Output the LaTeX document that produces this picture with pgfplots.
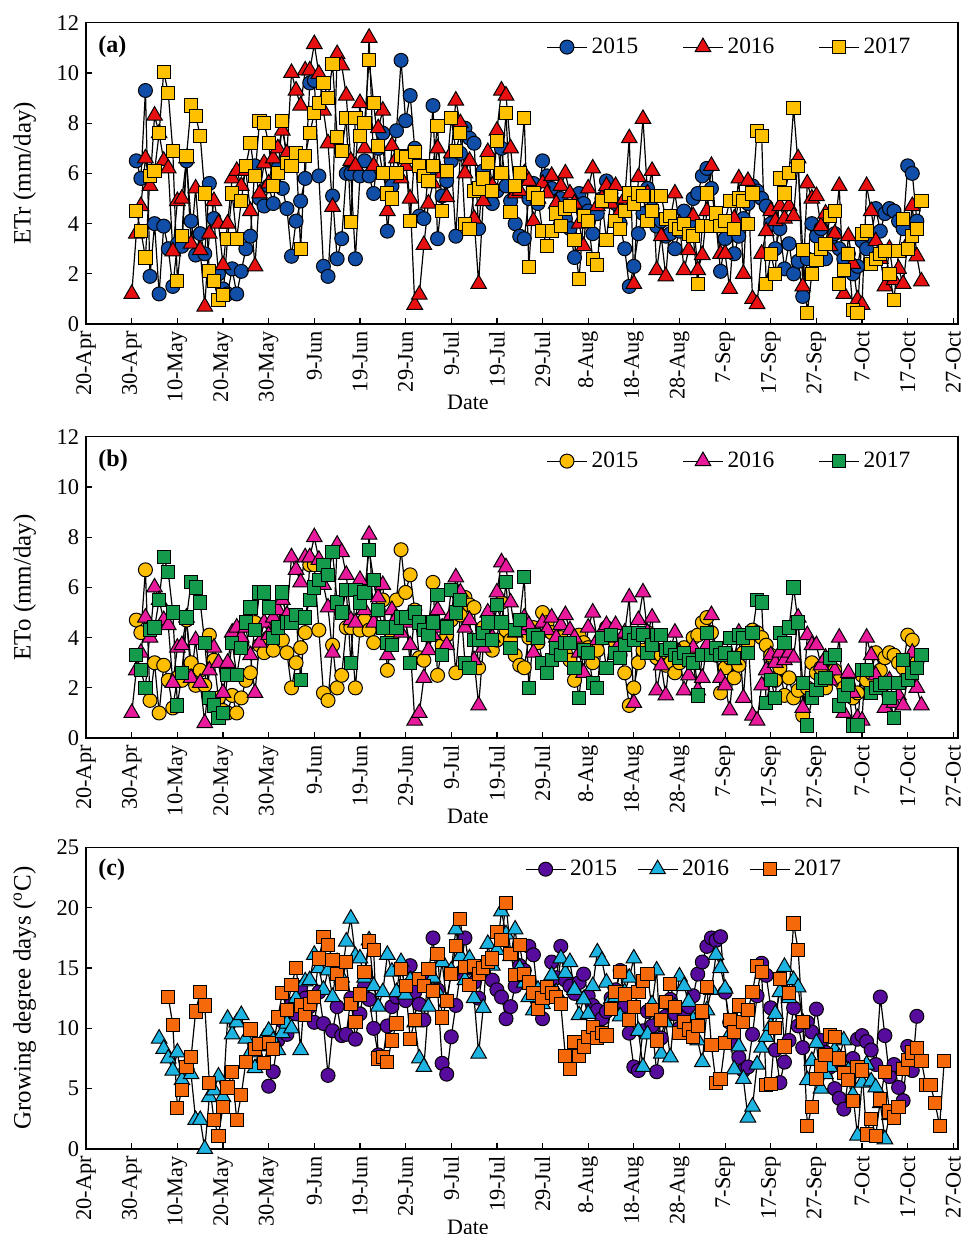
\documentclass[border=0pt]{standalone}
\usepackage{fontspec}
\setmainfont{Liberation Serif}
\usepackage{pgfplots}
\usepackage{pgfplotstable}
\pgfplotsset{compat=1.18}

\definecolor{cA1}{RGB}{16,78,168}
\definecolor{cA2}{RGB}{232,16,16}
\definecolor{cA3}{RGB}{255,192,0}
\definecolor{cB1}{RGB}{255,190,0}
\definecolor{cB2}{RGB}{232,25,155}
\definecolor{cB3}{RGB}{20,155,75}
\definecolor{cC1}{RGB}{88,12,158}
\definecolor{cC2}{RGB}{30,180,225}
\definecolor{cC3}{RGB}{245,105,10}

% ETr 2015, from 1-May (day 11 after 20-Apr)
\pgfplotstableread[row sep=\\]{
y\\6.5\\5.8\\9.3\\1.9\\4.0\\1.2\\3.9\\3.0\\1.5\\3.2\\
3.1\\6.5\\4.1\\2.75\\3.6\\2.8\\5.6\\4.2\\2.0\\1.4\\
1.2\\2.2\\1.2\\2.1\\3.0\\3.5\\6.3\\5.0\\4.7\\5.5\\
4.8\\6.2\\5.4\\4.6\\2.7\\4.1\\4.9\\5.8\\9.6\\9.7\\
5.9\\2.3\\1.9\\5.1\\2.6\\3.4\\6.0\\6.0\\2.6\\5.9\\
6.5\\5.9\\5.2\\7.0\\7.6\\3.7\\5.5\\7.7\\10.5\\8.1\\
9.1\\7.0\\4.3\\4.2\\6.0\\8.7\\3.4\\5.1\\5.7\\6.5\\
3.5\\6.8\\7.8\\7.4\\7.2\\3.8\\6.1\\5.0\\4.8\\5.3\\
7.0\\5.5\\4.9\\4.0\\3.5\\3.4\\5.0\\5.6\\4.8\\6.5\\
5.9\\5.4\\4.6\\5.0\\4.2\\3.8\\2.65\\5.2\\4.8\\4.5\\
3.6\\4.4\\5.0\\5.7\\5.2\\4.8\\4.0\\3.0\\1.5\\2.3\\
3.6\\4.4\\5.4\\4.6\\3.9\\4.1\\3.5\\3.6\\3.0\\3.7\\
4.5\\4.0\\5.0\\5.2\\5.9\\6.2\\5.4\\4.0\\2.1\\3.4\\
3.9\\2.8\\3.5\\4.2\\4.8\\5.5\\5.3\\5.0\\4.7\\4.0\\
3.0\\3.8\\2.2\\3.2\\2.0\\2.5\\1.1\\2.6\\4.0\\3.5\\
3.8\\2.6\\3.2\\3.6\\3.0\\2.6\\2.8\\2.0\\2.3\\3.3\\
3.0\\3.5\\4.6\\3.7\\4.4\\4.6\\4.5\\4.1\\3.8\\6.3\\
6.0\\4.1\\
}\etrA
% ETr 2016, from day 10
\pgfplotstableread[row sep=\\]{
y\\1.2\\3.6\\4.7\\6.6\\5.5\\8.3\\7.6\\6.5\\6.2\\2.9\\
4.9\\5.0\\6.6\\3.2\\5.4\\2.95\\0.7\\3.6\\4.9\\4.0\\
2.35\\4.0\\5.8\\6.1\\5.5\\6.1\\4.5\\2.3\\5.2\\6.4\\
5.6\\6.6\\7.0\\7.7\\6.8\\10.0\\9.3\\8.7\\10.1\\10.1\\
11.15\\9.96\\8.5\\7.2\\4.67\\10.75\\10.3\\9.1\\6.5\\6.3\\
8.8\\7.0\\11.4\\6.3\\7.8\\8.5\\4.5\\7.1\\6.6\\5.8\\
6.3\\5.0\\0.77\\1.17\\3.15\\4.8\\5.6\\7.0\\6.0\\5.06\\
6.8\\8.9\\8.0\\6.0\\6.5\\4.2\\1.6\\4.9\\6.85\\5.5\\
7.7\\9.3\\9.1\\7.0\\5.2\\5.3\\6.0\\5.7\\4.1\\5.0\\
5.6\\5.2\\5.9\\4.8\\5.5\\6.0\\5.2\\4.8\\4.0\\3.1\\
5.4\\6.2\\4.7\\5.0\\5.5\\4.8\\5.5\\4.5\\5.0\\7.4\\
1.6\\5.85\\8.17\\5.2\\6.1\\2.15\\3.5\\1.9\\4.2\\5.2\\
4.0\\2.15\\2.95\\4.3\\2.15\\2.75\\4.5\\6.3\\4.0\\2.8\\
2.8\\1.4\\4.2\\5.8\\2.0\\5.7\\1.0\\0.8\\2.8\\3.7\\
4.5\\4.1\\4.7\\4.2\\4.7\\4.3\\6.6\\1.5\\5.6\\5.0\\
5.1\\3.9\\4.4\\3.1\\3.6\\5.5\\1.2\\3.5\\2.4\\0.97\\
0.77\\5.5\\4.5\\3.3\\2.6\\1.5\\3.0\\1.75\\2.2\\1.6\\
3.2\\4.7\\2.7\\1.7\\
}\etrB
% ETr 2017, from day 11
\pgfplotstableread[row sep=\\]{
y\\4.5\\3.7\\2.65\\5.9\\6.1\\7.6\\10.05\\9.2\\6.9\\1.7\\
3.5\\6.7\\8.7\\8.3\\7.5\\5.2\\2.1\\1.7\\0.96\\1.16\\
3.4\\5.2\\3.4\\4.9\\6.3\\7.2\\5.9\\8.1\\8.0\\7.2\\
5.5\\6.0\\8.1\\6.4\\6.3\\6.8\\3.0\\6.7\\7.6\\8.4\\
8.8\\9.6\\9.0\\10.36\\7.45\\6.9\\8.2\\4.07\\8.2\\7.5\\
8.0\\10.5\\8.8\\7.1\\6.0\\5.2\\5.0\\6.0\\6.7\\6.65\\
4.1\\6.85\\6.3\\5.9\\5.7\\6.3\\7.9\\4.5\\6.1\\8.2\\
6.9\\7.6\\4.0\\3.8\\5.3\\5.4\\5.8\\6.4\\5.3\\7.3\\
6.0\\8.4\\4.45\\5.5\\6.0\\8.2\\2.26\\5.2\\5.0\\3.7\\
3.1\\3.7\\4.4\\3.9\\4.6\\4.7\\3.35\\1.78\\4.3\\4.1\\
2.6\\2.35\\4.9\\3.35\\5.1\\4.1\\3.8\\4.5\\5.2\\4.8\\
5.2\\5.1\\4.1\\4.5\\5.1\\5.1\\4.2\\4.3\\3.9\\3.8\\
4.0\\3.6\\3.5\\1.6\\3.9\\5.2\\3.9\\4.4\\3.9\\4.1\\
4.9\\3.8\\5.0\\4.9\\4.0\\5.2\\7.7\\7.5\\1.6\\2.8\\
2.0\\5.8\\5.2\\6.0\\8.6\\6.3\\2.95\\0.44\\2.0\\2.55\\
3.0\\3.2\\4.3\\4.5\\1.6\\2.15\\2.8\\0.56\\0.44\\3.6\\
3.7\\2.4\\2.6\\2.8\\2.9\\2.0\\0.96\\2.9\\4.2\\3.0\\
3.5\\3.8\\4.9\\
}\etrC
% ETo 2015, from day 11
\pgfplotstableread[row sep=\\]{
y\\4.7\\4.2\\6.7\\1.5\\3.0\\1.0\\2.9\\2.3\\1.2\\2.4\\
2.3\\4.7\\3.0\\2.1\\2.7\\2.1\\4.1\\3.1\\1.6\\1.1\\
1.0\\1.7\\1.0\\1.6\\2.3\\2.6\\4.6\\3.7\\3.4\\4.0\\
3.5\\4.5\\3.9\\3.4\\2.0\\3.0\\3.6\\4.2\\6.9\\6.9\\
4.3\\1.8\\1.5\\3.7\\2.0\\2.5\\4.4\\4.4\\2.0\\4.3\\
4.7\\4.3\\3.8\\5.1\\5.5\\2.7\\4.0\\5.5\\7.5\\5.8\\
6.5\\5.1\\3.2\\3.1\\4.4\\6.2\\2.5\\3.7\\4.1\\4.7\\
2.6\\4.9\\5.6\\5.3\\5.2\\2.8\\4.4\\3.7\\3.5\\3.9\\
5.4\\4.3\\3.9\\3.3\\2.9\\2.8\\4.0\\4.4\\3.8\\5.0\\
4.6\\4.2\\3.7\\4.0\\3.4\\3.1\\2.3\\4.1\\3.8\\3.6\\
3.0\\3.5\\4.0\\4.4\\4.1\\3.8\\3.3\\2.6\\1.3\\2.0\\
3.0\\3.5\\4.2\\3.7\\3.2\\3.3\\2.9\\3.0\\2.6\\3.0\\
3.6\\3.3\\4.0\\4.1\\4.6\\4.8\\4.2\\3.3\\1.8\\2.8\\
3.2\\2.4\\2.9\\3.4\\3.8\\4.3\\4.2\\4.0\\3.7\\3.3\\
2.3\\2.8\\1.7\\2.4\\1.6\\1.9\\0.9\\2.0\\3.0\\2.6\\
2.8\\2.0\\2.4\\2.7\\2.3\\2.0\\2.1\\1.6\\1.8\\2.5\\
2.3\\2.6\\3.4\\2.7\\3.2\\3.4\\3.3\\3.0\\2.8\\4.1\\
3.9\\3.0\\
}\etoA
% ETo 2016, from day 10
\pgfplotstableread[row sep=\\]{
y\\1.0\\2.7\\3.4\\4.8\\4.0\\6.0\\5.5\\4.7\\4.5\\2.2\\
3.6\\3.7\\4.8\\2.4\\3.9\\2.2\\0.6\\2.7\\3.6\\3.0\\
1.8\\3.0\\4.2\\4.4\\4.0\\4.4\\3.3\\1.8\\3.8\\4.6\\
4.1\\4.8\\5.1\\5.5\\4.9\\7.2\\6.7\\6.2\\7.2\\7.2\\
8.0\\7.1\\6.1\\5.2\\3.4\\7.7\\7.4\\6.5\\4.7\\4.6\\
6.3\\5.1\\8.1\\4.6\\5.6\\6.1\\3.3\\5.1\\4.8\\4.2\\
4.6\\3.7\\0.7\\1.0\\2.4\\3.5\\4.1\\5.1\\4.4\\3.7\\
4.9\\6.4\\5.8\\4.4\\4.7\\3.1\\1.3\\3.6\\5.0\\4.0\\
5.8\\7.0\\6.8\\5.4\\4.2\\4.3\\4.8\\4.5\\3.4\\4.2\\
4.6\\4.3\\4.8\\4.0\\4.5\\4.9\\4.3\\4.0\\3.4\\2.6\\
4.4\\5.0\\3.9\\4.2\\4.5\\4.0\\4.5\\3.8\\4.2\\5.6\\
1.4\\4.7\\5.8\\4.2\\4.8\\1.9\\2.9\\1.7\\3.5\\4.2\\
3.4\\1.9\\2.5\\3.6\\1.9\\2.4\\3.7\\4.9\\3.4\\2.4\\
2.1\\1.1\\3.1\\4.2\\1.6\\4.1\\0.9\\0.7\\2.1\\2.7\\
3.3\\3.0\\3.4\\3.1\\3.4\\3.2\\4.8\\1.2\\4.1\\3.7\\
3.7\\2.9\\3.2\\2.3\\2.7\\4.0\\1.0\\2.6\\1.8\\0.8\\
0.7\\4.0\\3.3\\2.5\\2.0\\1.2\\2.3\\1.4\\1.7\\1.3\\
2.4\\3.4\\2.0\\1.3\\
}\etoB
% ETo 2017, from day 11
\pgfplotstableread[row sep=\\]{
y\\3.3\\2.7\\2.0\\4.3\\4.4\\5.5\\7.2\\6.6\\5.0\\1.3\\
2.6\\4.8\\6.2\\6.0\\5.4\\3.8\\1.6\\1.3\\0.8\\1.0\\
2.5\\3.8\\2.5\\3.6\\4.6\\5.2\\4.3\\5.8\\5.8\\5.2\\
4.0\\4.4\\5.8\\4.6\\4.6\\4.9\\2.3\\4.8\\5.5\\6.0\\
6.3\\6.9\\6.5\\7.4\\5.4\\5.0\\5.9\\3.0\\5.9\\5.4\\
5.8\\7.5\\6.3\\5.1\\4.4\\3.8\\3.7\\4.4\\4.8\\4.8\\
3.0\\5.0\\4.6\\4.3\\4.1\\4.6\\5.7\\3.3\\4.4\\5.9\\
5.0\\5.5\\3.0\\2.8\\3.9\\3.9\\4.2\\4.6\\3.9\\5.3\\
4.6\\6.2\\3.6\\4.3\\4.7\\6.4\\2.0\\4.1\\4.0\\3.0\\
2.6\\3.1\\3.6\\3.3\\3.8\\3.8\\2.8\\1.6\\3.5\\3.4\\
2.2\\2.0\\4.0\\2.8\\4.1\\3.4\\3.2\\3.7\\4.2\\3.9\\
4.2\\4.1\\3.4\\3.7\\4.1\\4.1\\3.5\\3.6\\3.3\\3.2\\
3.4\\3.1\\3.0\\1.7\\3.3\\4.2\\3.3\\3.6\\3.3\\3.4\\
4.0\\3.2\\4.1\\4.0\\3.4\\4.2\\5.5\\5.4\\1.4\\2.3\\
1.6\\4.2\\3.8\\4.4\\6.0\\4.6\\2.2\\0.5\\1.6\\1.9\\
2.3\\2.4\\3.2\\3.3\\1.3\\1.7\\2.1\\0.5\\0.5\\2.7\\
2.7\\1.8\\2.0\\2.1\\2.2\\1.6\\0.8\\2.2\\3.1\\2.3\\
2.6\\2.8\\3.3\\
}\etoC
% GDD 2015, from day 40
\pgfplotstableread[row sep=\\]{
y\\5.2\\6.4\\9.0\\10.6\\9.5\\12.0\\11.2\\13.4\\12.5\\11.8\\
10.5\\13.0\\10.4\\6.1\\9.8\\11.8\\9.4\\9.5\\12.5\\9.1\\
11.2\\13.5\\12.4\\10.0\\7.8\\7.5\\10.2\\11.8\\12.6\\13.0\\
12.3\\15.2\\13.0\\12.0\\10.7\\14.5\\17.5\\13.2\\7.1\\6.2\\
9.3\\11.9\\14.6\\17.5\\15.0\\13.8\\12.5\\14.8\\15.5\\14.0\\
13.2\\12.6\\10.8\\11.8\\13.5\\15.2\\14.8\\16.8\\16.1\\12.5\\
10.8\\12.8\\15.5\\14.2\\16.8\\14.0\\13.5\\12.9\\13.8\\14.5\\
12.7\\11.9\\11.5\\10.8\\11.4\\12.5\\13.2\\14.8\\11.9\\9.6\\
6.8\\6.5\\9.8\\11.4\\10.2\\6.4\\9.2\\11.0\\12.4\\11.2\\
10.0\\10.9\\11.8\\12.7\\14.5\\15.5\\16.8\\17.5\\17.3\\17.6\\
13.0\\10.5\\8.8\\7.6\\6.5\\6.8\\9.5\\12.7\\15.4\\14.4\\
11.7\\8.2\\5.5\\7.2\\9.0\\11.7\\10.2\\8.4\\10.5\\9.7\\
11.6\\9.0\\8.0\\6.8\\5.0\\4.2\\3.3\\5.8\\7.5\\9.1\\
9.4\\8.9\\8.2\\7.0\\12.6\\9.4\\6.0\\7.0\\5.1\\4.0\\
8.5\\6.5\\11.0\\
}\gddA
% GDD 2016, from day 16
\pgfplotstableread[row sep=\\]{
y\\9.15\\8.3\\7.5\\6.5\\8.0\\5.7\\7.0\\6.2\\2.4\\2.4\\
0.0\\4.3\\4.85\\6.0\\4.3\\10.8\\9.5\\10.5\\11.1\\9.15\\
8.0\\6.7\\8.5\\9.2\\9.8\\9.0\\8.2\\9.6\\10.4\\10.0\\
12.5\\8.2\\13.9\\14.0\\16.1\\15.0\\13.2\\14.8\\12.6\\15.5\\
14.2\\17.2\\19.1\\16.0\\15.8\\14.2\\17.3\\13.5\\11.8\\13.0\\
16.1\\14.7\\13.0\\15.5\\12.8\\14.0\\10.5\\7.5\\6.8\\11.8\\
14.2\\13.0\\15.5\\12.2\\14.8\\18.2\\16.0\\14.0\\15.8\\12.5\\
7.9\\11.7\\17.0\\15.2\\16.5\\19.7\\17.8\\16.0\\18.2\\15.0\\
13.8\\12.6\\11.5\\13.2\\12.0\\13.0\\14.4\\13.0\\15.8\\14.6\\
15.5\\13.2\\11.1\\12.4\\11.2\\13.5\\16.3\\15.6\\13.8\\12.4\\
12.6\\11.0\\13.0\\14.2\\15.8\\9.8\\6.8\\9.5\\12.0\\14.8\\
7.9\\10.5\\7.6\\11.8\\14.3\\13.5\\12.2\\10.7\\9.0\\7.2\\
11.5\\13.2\\16.1\\15.0\\13.3\\9.5\\6.6\\8.5\\5.8\\2.6\\
3.5\\7.0\\8.4\\9.3\\10.2\\11.2\\13.0\\15.1\\12.5\\14.0\\
13.4\\10.5\\5.7\\7.3\\8.8\\5.0\\6.2\\6.8\\8.2\\7.6\\
9.0\\6.5\\4.5\\1.1\\5.5\\7.0\\5.6\\5.1\\3.8\\0.8\\
2.8\\
}\gddB
% GDD 2017, from day 18
\pgfplotstableread[row sep=\\]{
y\\12.6\\10.3\\3.4\\4.9\\6.8\\7.6\\11.4\\13.0\\11.9\\5.5\\
2.4\\1.1\\3.5\\5.1\\6.4\\2.4\\4.5\\7.2\\9.9\\8.3\\
8.7\\7.1\\8.8\\8.3\\10.9\\12.9\\11.5\\13.6\\15.0\\11.9\\
11.1\\12.0\\12.6\\15.8\\17.6\\16.9\\15.7\\14.5\\13.7\\15.5\\
12.0\\10.5\\12.8\\14.7\\17.2\\16.5\\7.5\\7.6\\7.2\\9.0\\
10.4\\14.9\\13.5\\9.1\\10.7\\14.1\\13.5\\14.9\\13.1\\16.2\\
10.9\\12.3\\14.5\\16.8\\19.1\\15.1\\13.6\\15.2\\14.5\\15.0\\
15.5\\15.8\\18.0\\17.3\\20.4\\16.2\\14.4\\16.9\\14.5\\13.8\\
12.9\\11.6\\12.5\\13.4\\12.9\\12.6\\12.0\\7.7\\6.6\\8.9\\
7.7\\8.5\\9.3\\10.1\\9.2\\9.6\\9.4\\11.6\\13.0\\14.7\\
12.8\\10.7\\11.8\\13.0\\13.9\\14.5\\11.5\\9.0\\10.7\\12.2\\
13.7\\11.8\\9.6\\10.5\\9.9\\9.3\\10.2\\11.4\\13.4\\8.6\\
5.5\\5.8\\8.8\\10.7\\9.7\\11.9\\10.5\\11.5\\13.0\\15.2\\
14.7\\5.3\\5.4\\10.0\\14.1\\8.5\\12.9\\18.7\\16.5\\10.5\\
1.9\\3.5\\5.8\\6.9\\7.8\\9.4\\9.3\\7.5\\6.3\\5.7\\
4.0\\6.8\\6.5\\1.2\\2.5\\1.1\\4.1\\6.4\\3.1\\2.6\\
3.5\\6.6\\7.4\\8.0\\8.4\\7.3\\5.3\\5.3\\3.8\\1.9\\
7.3\\
}\gddC

\pgfplotsset{
  panel/.style={
    scale only axis, width=435.9pt, height=150.7pt,
    anchor=north west,
    xmin=0, xmax=191,
    xtick={0,10,...,190},
    xticklabels={20-Apr,30-Apr,10-May,20-May,30-May,9-Jun,19-Jun,29-Jun,9-Jul,19-Jul,29-Jul,8-Aug,18-Aug,28-Aug,7-Sep,17-Sep,27-Sep,7-Oct,17-Oct,27-Oct},
    xticklabel style={rotate=90, anchor=east, font=\fontsize{11.2}{12}\selectfont},
    yticklabel style={font=\fontsize{11.2}{12}\selectfont},
    /pgf/number format/assume math mode=true,
    tick pos=left, tick align=inside, major tick length=3pt,
    tick style={black, line width=0.6pt},
    axis line style={line width=0.7pt},
    xlabel={Date},
    xlabel style={at={(axis description cs:0.438,0)}, anchor=center, yshift=-39pt, font=\fontsize{11}{12}\selectfont},
    ylabel style={at={(axis description cs:-0.0705,0.5)}, anchor=center, font=\fontsize{12.5}{14}\selectfont},
    clip=false,
    legend columns=3,
    legend style={draw=none, fill=none, anchor=center, font=\fontsize{11.7}{13}\selectfont,
      /tikz/every odd column/.append style={column sep=0pt}},
    legend image code/.code={\draw[mark repeat=2,mark phase=2] plot coordinates {(0pt,0pt)(10pt,0pt)(20pt,0pt)};},
  },
  ser/.style={black, line width=0.6pt, mark options={draw=black, line width=0.5pt, fill=#1, solid}},
}

\begin{document}
\begin{tikzpicture}
\path[use as bounding box] (0,0) rectangle (480.5pt,-617pt);

% ---------- (a) ----------
\begin{axis}[panel, at={(43.05pt,-11.35pt)},
  ymin=0, ymax=12, ytick={0,2,...,12},
  ylabel={ETr (mm/day)},
  legend style={at={(axis description cs:0.739,0.919)}, /tikz/every even column/.append style={column sep=20pt}}]
\addplot[ser=cA1, mark=*, mark size=3.5pt] table[x expr=\coordindex+11, y=y] {\etrA};
\addplot[ser=cA2, mark=triangle*, mark size=4.5pt] table[x expr=\coordindex+10, y=y] {\etrB};
\addplot[ser=cA3, mark=square*, mark size=3.3pt] table[x expr=\coordindex+11, y=y] {\etrC};
\legend{2015,2016,2017}
\node[anchor=west, inner sep=0pt, font=\bfseries\fontsize{12}{14}\selectfont] at (axis description cs:0.0137,0.919) {(a)};
\end{axis}

% ---------- (b) ----------
\begin{axis}[panel, at={(43.05pt,-218.35pt)},
  ymin=0, ymax=12, ytick={0,2,...,12},
  ylabel={ETo (mm/day)},
  legend style={at={(axis description cs:0.739,0.919)}, /tikz/every even column/.append style={column sep=20pt}}]
\addplot[ser=cB1, mark=*, mark size=3.5pt] table[x expr=\coordindex+11, y=y] {\etoA};
\addplot[ser=cB2, mark=triangle*, mark size=4.5pt] table[x expr=\coordindex+10, y=y] {\etoB};
\addplot[ser=cB3, mark=square*, mark size=3.3pt] table[x expr=\coordindex+11, y=y] {\etoC};
\legend{2015,2016,2017}
\node[anchor=west, inner sep=0pt, font=\bfseries\fontsize{12}{14}\selectfont] at (axis description cs:0.0137,0.919) {(b)};
\end{axis}

% ---------- (c) ----------
\begin{axis}[panel, at={(43.05pt,-423.75pt)},
  ymin=0, ymax=25, ytick={0,5,...,25},
  ylabel={Growing degree days (\textsuperscript{o}C)},
  legend style={at={(axis description cs:0.687,0.928)}, /tikz/every even column/.append style={column sep=8pt}}]
\addplot[ser=cC1, mark=*, mark size=3.5pt] table[x expr=\coordindex+40, y=y] {\gddA};
\addplot[ser=cC2, mark=triangle*, mark size=4.5pt] table[x expr=\coordindex+16, y=y] {\gddB};
\addplot[ser=cC3, mark=square*, mark size=3.3pt] table[x expr=\coordindex+18, y=y] {\gddC};
\legend{2015,2016,2017}
\node[anchor=west, inner sep=0pt, font=\bfseries\fontsize{12}{14}\selectfont] at (axis description cs:0.0137,0.925) {(c)};
\end{axis}
\end{tikzpicture}
\end{document}
